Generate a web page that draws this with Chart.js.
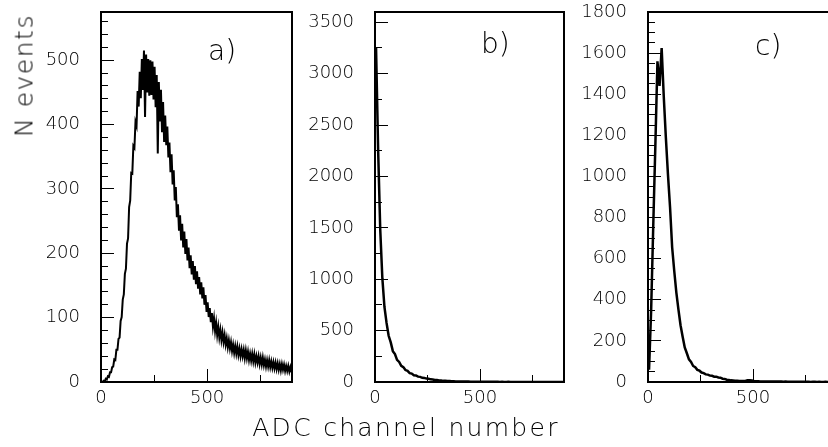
<!DOCTYPE html>
<html>
<head>
<meta charset="utf-8">
<script src="https://cdn.jsdelivr.net/npm/chart.js@4.4.1/dist/chart.umd.min.js"></script>
<style>
  html, body { margin: 0; padding: 0; background: #fff; }
  body { width: 828px; height: 447px; overflow: hidden; position: relative; }
  .panel { position: absolute; top: 0; }
  .txt { position: absolute; font-family: 'DejaVu Sans', sans-serif; font-weight: 200; color: #000; line-height: 1; white-space: nowrap; }
</style>
</head>
<body>
<div class="panel" style="left:0"><canvas id="chart-a" width="300" height="447"></canvas></div>
<div class="panel" style="left:300px"><canvas id="chart-b" width="270" height="447"></canvas></div>
<div class="panel" style="left:570px"><canvas id="chart-c" width="290" height="447"></canvas></div>

<div class="txt" style="left:208px; top:37px; font-size:28px;">a)</div>
<div class="txt" style="left:481px; top:30px; font-size:28px;">b)</div>
<div class="txt" style="left:755px; top:32px; font-size:28px;">c)</div>
<div class="txt" style="left:0; width:812px; top:415px; font-size:25px; text-align:center; letter-spacing:2.3px;">ADC channel number</div>
<div class="txt" style="left:-76px; top:63px; width:200px; height:25px; font-size:25px; text-align:center; letter-spacing:1.5px; transform:rotate(-90deg);">N events</div>

<script>
// ADC spectra, three panels, range 0-900 channels

const X_MAX = 900;
const BIN_A = 5;   // channels per bin, panel a)
const BIN_BC = 10; // channels per bin, panels b) and c)

// panel a) counts per 5-channel bin
const countsA = [
  0, 0, 2, 1, 5, 4, 9, 8, 15, 15, 23, 24,
  35, 34, 50, 50, 67, 69, 95, 101, 128, 136, 168, 176,
  215, 223, 272, 282, 325, 324, 367, 364, 404, 398,
  452, 428, 482, 441, 502, 454, 515, 412, 509, 450, 502, 445, 500,
  446, 498, 439, 490, 427, 477, 355, 466, 405, 454, 388, 435, 373,
  414, 368, 397, 349, 372, 326, 354, 307, 329, 282, 303, 256, 276, 235, 259,
  220, 246, 209, 234, 199, 222, 189, 209, 177, 197, 167, 188, 159, 180, 152,
  172, 145, 163, 136, 155, 130, 147, 120, 135, 109, 124, 101, 115, 93, 107,
  86, 99, 79, 92, 73, 86, 69, 81, 65, 77, 62, 73, 58, 68, 54,
  65, 52, 62, 48, 58, 45, 56, 44, 55, 42, 52, 40, 51, 40, 50,
  37, 49, 37, 47, 34, 44, 33, 44, 32, 43, 30, 40, 30, 40, 28,
  38, 27, 38, 26, 35, 24, 34, 24, 34, 23, 32, 22, 31, 21, 30,
  20, 29, 19, 28, 18, 28, 19, 27, 17, 25, 17, 25, 16, 23, 15,
];

// panel b) counts per 10-channel bin
const countsB = [
  3250, 2250, 1480, 1010, 730, 575, 450, 385, 300, 272,
  215, 195, 158, 145, 116, 108, 86, 82, 66, 64,
  52, 50, 41, 40, 33, 32, 26, 25, 20, 19,
  15, 15, 11, 11, 9, 9, 7, 7, 6, 6,
  5, 5, 4, 4, 4, 3, 3, 3, 3, 3,
  3, 2, 2, 2, 2, 2, 2, 2, 2, 1,
  2, 1, 1, 2, 1, 1, 1, 1, 1, 1,
  1, 1, 1, 0, 1, 1, 0, 1, 0, 0,
  1, 0, 0, 0, 1, 0, 0, 0, 0, 0,
];

// panel c) counts per 10-channel bin
const countsC = [
  60, 350, 760, 1150, 1560, 1440, 1625, 1390, 1190, 1010,
  850, 655, 540, 435, 352, 276, 220, 168, 140, 110,
  98, 78, 72, 59, 55, 46, 43, 37, 36, 31,
  30, 26, 26, 22, 21, 16, 15, 11, 10, 8,
  7, 6, 6, 5, 5, 5, 6, 8, 9, 7,
  5, 4, 4, 3, 3, 3, 3, 2, 2, 2,
  2, 2, 2, 2, 1, 2, 1, 1, 1, 1,
  1, 1, 1, 1, 1, 1, 1, 0, 1, 1,
  0, 1, 0, 0, 1, 0, 0, 0, 0, 0,
];

const TICK_FONT = { family: "'DejaVu Sans', sans-serif", size: 18, weight: '200' };

// draws the closed box around the plot area
const framePlugin = {
  id: 'frame',
  afterDraw(chart) {
    const { ctx, chartArea: a } = chart;
    ctx.save();
    ctx.strokeStyle = '#000';
    ctx.lineWidth = 2;
    ctx.strokeRect(a.left, a.top, a.right - a.left, a.bottom - a.top);
    ctx.restore();
  },
};

function toPoints(counts, bin) {
  return counts.map((v, i) => ({ x: i * bin + bin / 2, y: v }));
}

function tickValues(max, step) {
  const out = [];
  for (let v = 0; v <= max + 1e-9; v += step) out.push({ value: v });
  return out;
}

// major and minor tick axes share one side; the minor one has zero size.
// negative tickLength turns the marks inward like the original frame.
function tickAxis(side, max, step, len, size, weight) {
  const labels = size > 0;
  return {
    type: 'linear',
    position: side,
    min: 0,
    max: max,
    weight: weight,
    border: { display: false },
    grid: { drawOnChartArea: false, tickLength: len, color: '#000', tickColor: '#000', tickWidth: 1 },
    ticks: {
      display: labels,
      autoSkip: false,
      maxRotation: 0,
      color: '#000',
      font: TICK_FONT,
      padding: side === 'left' ? 34 : 19,
      callback: v => String(v),
    },
    afterBuildTicks: s => { s.ticks = tickValues(max, step); },
    afterFit: s => {
      if (side === 'left') s.width = size;
      else s.height = size;
      s.paddingTop = 0; s.paddingBottom = 0;
      s.paddingLeft = 0; s.paddingRight = 0;
    },
  };
}

function makePanel(id, counts, bin, lineWidth, yMax, yMajor, yMinor, left, padRight) {
  const ctx = document.getElementById(id);
  return new Chart(ctx, {
    type: 'line',
    data: {
      datasets: [{
        data: toPoints(counts, bin),
        borderColor: '#000',
        borderWidth: lineWidth,
        pointRadius: 0,
        tension: 0,
        fill: false,
        xAxisID: 'x',
        yAxisID: 'y',
      }],
    },
    options: {
      responsive: false,
      animation: false,
      layout: { padding: { left: 0, right: padRight, top: 12, bottom: 35 } },
      plugins: { legend: { display: false }, tooltip: { enabled: false } },
      scales: {
        x: tickAxis('bottom', X_MAX, 500, -13, 30, 1),
        xMinor: tickAxis('bottom', X_MAX, 250, -7, 0, 0),
        y: tickAxis('left', yMax, yMajor, -13, left, 1),
        yMinor: tickAxis('left', yMax, yMinor, -7, 0, 0),
      },
    },
    plugins: [framePlugin],
  });
}

makePanel('chart-a', countsA, BIN_A, 2, 575, 100, 20, 101, 8);
makePanel('chart-b', countsB, BIN_BC, 2.5, 3600, 500, 250, 75, 6);
makePanel('chart-c', countsC, BIN_BC, 2.5, 1800, 200, 50, 78, 23);
</script>
</body>
</html>
